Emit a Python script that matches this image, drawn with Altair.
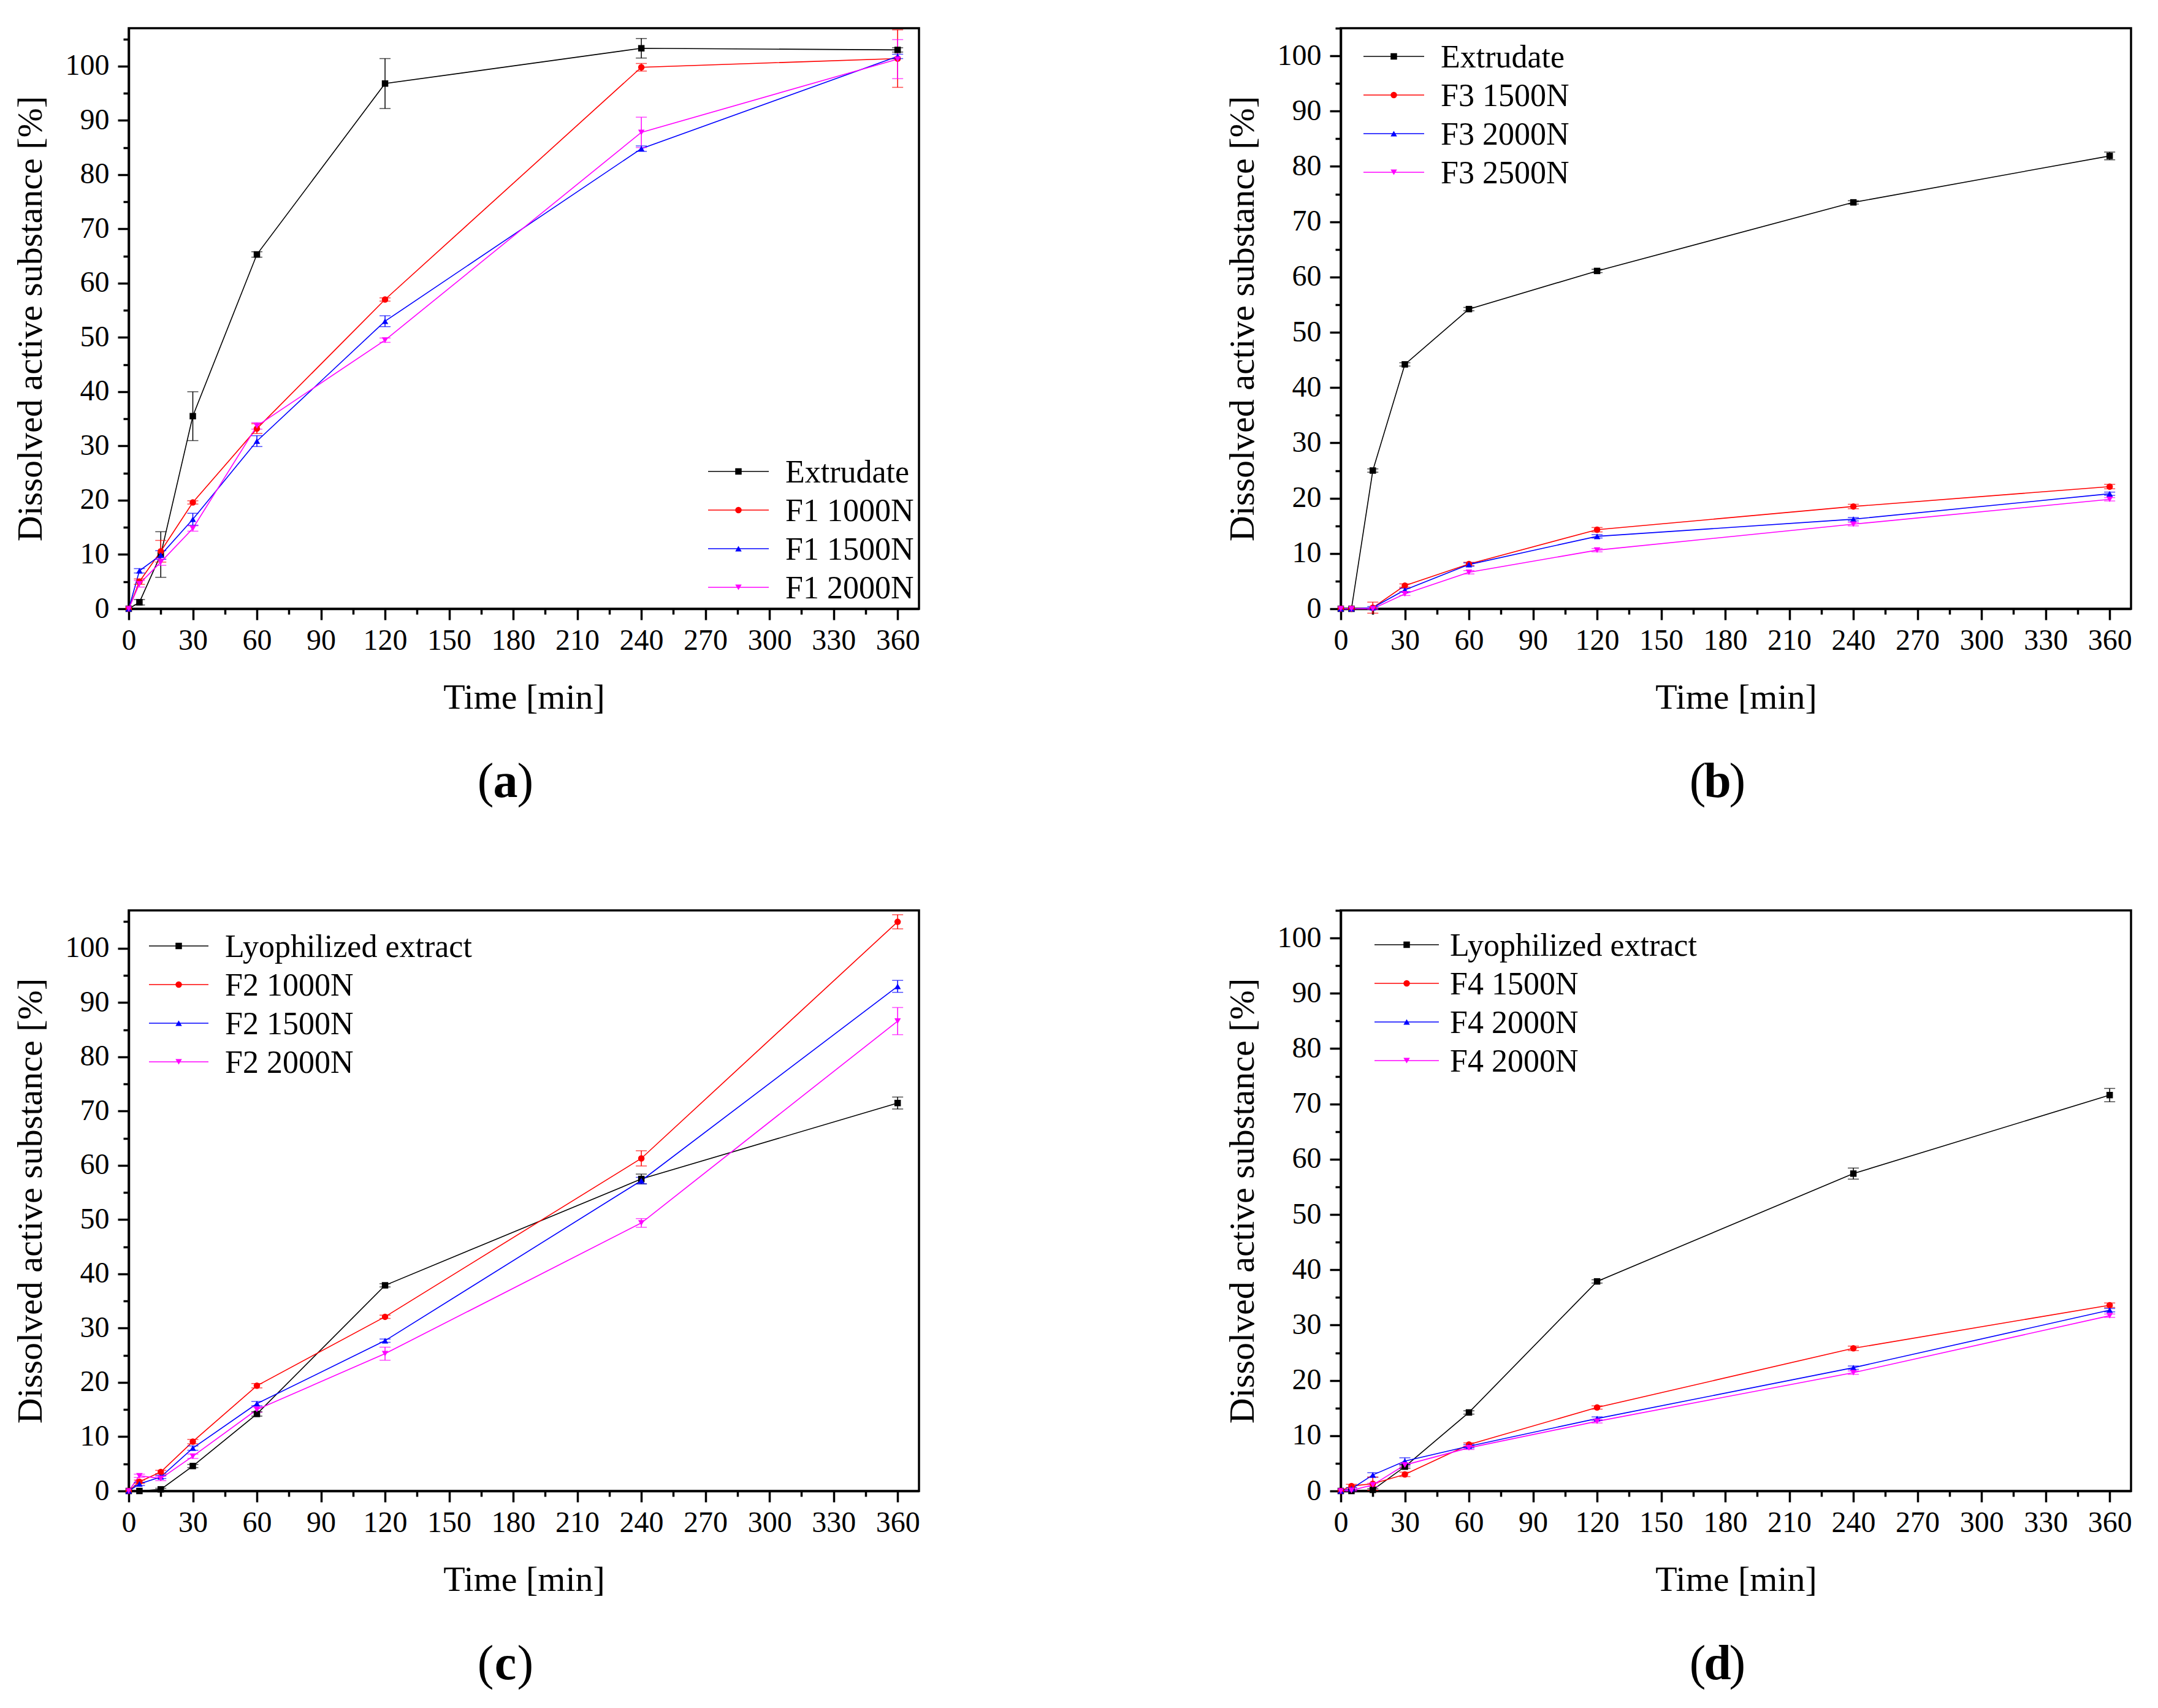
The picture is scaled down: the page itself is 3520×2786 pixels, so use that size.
import altair as alt
import pandas as pd

# ---------------- data ----------------
time_min = [0, 5, 15, 30, 60, 120, 240, 360]

# (a)
a_labels = ["Extrudate", "F1 1000N", "F1 1500N", "F1 2000N"]
a_extrudate = [0, 1.2, 10.0, 35.5, 65.3, 96.8, 103.3, 103.0]
a_extrudate_err = [0, 0.5, 4.2, 4.5, 0.5, 4.6, 1.8, 0.4]
a_f1_1000 = [0, 5.0, 10.6, 19.6, 33.2, 57.0, 99.8, 101.4]
a_f1_1000_err = [0, 0.5, 2.0, 0.3, 0.9, 0.3, 0.7, 5.3]
a_f1_1500 = [0, 7.0, 9.9, 16.5, 30.9, 53.0, 84.8, 101.8]
a_f1_1500_err = [0, 0.4, 0.8, 1.1, 1.0, 1.0, 0.5, 0.4]
a_f1_2000 = [0, 4.6, 8.6, 14.8, 33.7, 49.5, 87.8, 101.3]
a_f1_2000_err = [0, 0.6, 0.6, 0.5, 0.6, 0.4, 2.8, 3.6]

# (b)
b_labels = ["Extrudate", "F3 1500N", "F3 2000N", "F3 2500N"]
b_extrudate = [0, 0, 25.0, 44.2, 54.2, 61.1, 73.5, 81.9]
b_extrudate_err = [0, 0, 0.3, 0.3, 0.3, 0.3, 0.3, 0.7]
b_f3_1500 = [0, 0, 0.2, 4.2, 8.1, 14.3, 18.5, 22.1]
b_f3_1500_err = [0, 0, 1.0, 0.3, 0.3, 0.4, 0.4, 0.4]
b_f3_2000 = [0, 0, 0.2, 3.4, 8.0, 13.1, 16.2, 20.8]
b_f3_2000_err = [0, 0, 0.2, 0.3, 0.3, 0.3, 0.3, 0.3]
b_f3_2500 = [0, 0, 0, 2.7, 6.6, 10.6, 15.3, 19.8]
b_f3_2500_err = [0, 0, 0.1, 0.3, 0.3, 0.3, 0.3, 0.3]

# (c)
c_labels = ["Lyophilized extract", "F2 1000N", "F2 1500N", "F2 2000N"]
c_lyo = [0, 0, 0.3, 4.6, 14.2, 37.9, 57.5, 71.5]
c_lyo_err = [0, 0, 0.2, 0.3, 0.4, 0.3, 0.9, 1.1]
c_f2_1000 = [0, 1.7, 3.5, 9.1, 19.4, 32.1, 61.3, 104.9]
c_f2_1000_err = [0, 0.3, 0.3, 0.4, 0.4, 0.3, 1.4, 1.3]
c_f2_1500 = [0, 1.3, 2.6, 7.9, 16.1, 27.7, 57.2, 93.0]
c_f2_1500_err = [0, 0.3, 0.3, 0.4, 0.4, 0.3, 0.6, 1.1]
c_f2_2000 = [0, 2.8, 2.3, 6.4, 15.0, 25.3, 49.4, 86.6]
c_f2_2000_err = [0, 0.3, 0.4, 0.4, 0.5, 1.2, 0.8, 2.5]

# (d)
d_labels = ["Lyophilized extract", "F4 1500N", "F4 2000N", "F4 2000N"]
d_lyo = [0, 0, 0.2, 4.4, 14.2, 37.9, 57.4, 71.6]
d_lyo_err = [0, 0, 0.2, 0.3, 0.3, 0.3, 1.0, 1.2]
d_f4_1500 = [0, 0.9, 1.3, 3.0, 8.4, 15.1, 25.8, 33.6]
d_f4_1500_err = [0, 0.3, 1.2, 0.4, 0.3, 0.3, 0.4, 0.4]
d_f4_2000a = [0, 0.4, 2.9, 5.4, 8.1, 13.1, 22.3, 32.7]
d_f4_2000a_err = [0, 0.2, 0.4, 0.6, 0.3, 0.3, 0.3, 0.3]
d_f4_2000b = [0, 0.1, 1.1, 4.7, 7.8, 12.6, 21.4, 31.7]
d_f4_2000b_err = [0, 0.1, 0.3, 0.3, 0.3, 0.3, 0.3, 0.3]

x_major_ticks = [0, 30, 60, 90, 120, 150, 180, 210, 240, 270, 300, 330, 360]
x_minor_ticks = [15, 45, 75, 105, 135, 165, 195, 225, 255, 285, 315, 345]
y_major_ticks = [0, 10, 20, 30, 40, 50, 60, 70, 80, 90, 100]
y_minor_ticks = [5, 15, 25, 35, 45, 55, 65, 75, 85, 95, 105]

# ---------------- style ----------------
SERIF = "Liberation Serif"
COLORS = ["#000000", "#ff0000", "#0000ff", "#ff00ff"]
SHAPES = ["square", "circle", "triangle-up", "triangle-down"]
W, H = 1289, 947
XTITLE = "Time [min]"
YTITLE = "Dissolved active substance [%]"
MSIZE = 110


def build_panel(letter, labels, series, errors, ymax, leg_x0, leg_x1, leg_tx, leg_y0):
    keys = [f"s{i}" for i in range(len(labels))]
    rows = []
    for k, lab, vals, errs in zip(keys, labels, series, errors):
        for t, v, e in zip(time_min, vals, errs):
            rows.append({"key": k, "label": lab, "t": t, "v": v, "err": e,
                         "lo": v - e, "hi": v + e})
    df = pd.DataFrame(rows)
    df_err = df[df["err"] > 0]

    color = alt.Color("key:N", scale=alt.Scale(domain=keys, range=COLORS), legend=None)
    shape = alt.Shape("key:N", scale=alt.Scale(domain=keys, range=SHAPES), legend=None)
    xs = alt.Scale(domain=[0, 370], nice=False, zero=False, padding=0)
    ys = alt.Scale(domain=[0, ymax], nice=False, zero=False, padding=0)

    x_main = alt.Axis(values=x_major_ticks, tickSize=18, labelPadding=10, titlePadding=40,
                      orient="bottom", grid=False, labelFontSize=48, titleFontSize=58,
                      labelFont=SERIF, titleFont=SERIF, titleFontWeight="normal",
                      labelFlush=False, labelOverlap=False)
    y_main = alt.Axis(values=y_major_ticks, tickSize=18, labelPadding=14, titlePadding=27,
                      orient="left", grid=False, labelFontSize=48, titleFontSize=58,
                      labelFont=SERIF, titleFont=SERIF, titleFontWeight="normal",
                      labelFlush=False, labelOverlap=False)
    x_minor = alt.Axis(values=x_minor_ticks, tickSize=9, labels=False, domain=False,
                       orient="bottom", grid=False)
    y_minor = alt.Axis(values=y_minor_ticks, tickSize=9, labels=False, domain=False,
                       orient="left", grid=False)

    base = alt.Chart(df)
    lines = base.mark_line(strokeWidth=1.6).encode(
        x=alt.X("t:Q", scale=xs, axis=x_main, title=XTITLE),
        y=alt.Y("v:Q", scale=ys, axis=y_main, title=YTITLE),
        color=color, detail="key:N",
    )
    err_rules = alt.Chart(df_err).mark_rule(strokeWidth=1.5).encode(
        x=alt.X("t:Q", scale=xs, axis=None),
        y=alt.Y("lo:Q", scale=ys, axis=None),
        y2="hi:Q",
        color=color,
    )
    caps_lo = alt.Chart(df_err).mark_tick(orient="horizontal", size=18, thickness=1.5).encode(
        x=alt.X("t:Q", scale=xs, axis=x_minor, title=None),
        y=alt.Y("lo:Q", scale=ys, axis=y_minor, title=None),
        color=color,
    )
    caps_hi = alt.Chart(df_err).mark_tick(orient="horizontal", size=18, thickness=1.5).encode(
        x=alt.X("t:Q", scale=xs, axis=None),
        y=alt.Y("hi:Q", scale=ys, axis=None),
        color=color,
    )
    points = base.mark_point(filled=True, size=MSIZE, opacity=1).encode(
        x=alt.X("t:Q", scale=xs, axis=None),
        y=alt.Y("v:Q", scale=ys, axis=None),
        color=color, shape=shape,
    )

    layers = [lines, err_rules, caps_lo, caps_hi, points]

    # manual legend (line + marker + label)
    for i, lab in enumerate(labels):
        yy = leg_y0 + i * 63
        ld = pd.DataFrame({"label": [lab]})
        layers.append(alt.Chart(ld).mark_rule(color=COLORS[i], strokeWidth=1.6).encode(
            x=alt.value(leg_x0), x2=alt.value(leg_x1), y=alt.value(yy)))
        layers.append(alt.Chart(ld).mark_point(filled=True, size=MSIZE, opacity=1,
                                               shape=SHAPES[i], color=COLORS[i]).encode(
            x=alt.value((leg_x0 + leg_x1) / 2), y=alt.value(yy)))
        layers.append(alt.Chart(ld).mark_text(align="left", baseline="middle", font=SERIF,
                                              fontSize=52, color="black").encode(
            x=alt.value(leg_tx), y=alt.value(yy + 2), text="label:N"))

    # panel letter "(x)" with bold letter
    cx = W / 2 - 30
    cy = H + 283
    ltr = pd.DataFrame({"open": ["("], "letter": [letter], "close": [")"]})
    layers.append(alt.Chart(ltr).mark_text(align="right", baseline="middle", font=SERIF,
                                           fontSize=80, color="black").encode(
        x=alt.value(cx - 19), y=alt.value(cy), text="open:N"))
    layers.append(alt.Chart(ltr).mark_text(align="center", baseline="middle", font=SERIF,
                                           fontSize=80, fontWeight="bold", color="black").encode(
        x=alt.value(cx), y=alt.value(cy), text="letter:N"))
    layers.append(alt.Chart(ltr).mark_text(align="left", baseline="middle", font=SERIF,
                                           fontSize=80, color="black").encode(
        x=alt.value(cx + 19), y=alt.value(cy), text="close:N"))

    return alt.layer(*layers).resolve_axis(x="independent", y="independent").properties(
        width=W, height=H)


pa = build_panel("a", a_labels,
                 [a_extrudate, a_f1_1000, a_f1_1500, a_f1_2000],
                 [a_extrudate_err, a_f1_1000_err, a_f1_1500_err, a_f1_2000_err],
                 107, 945, 1044, 1071, 723)
pb = build_panel("b", b_labels,
                 [b_extrudate, b_f3_1500, b_f3_2000, b_f3_2500],
                 [b_extrudate_err, b_f3_1500_err, b_f3_2000_err, b_f3_2500_err],
                 105, 37, 136, 163, 46)
pc = build_panel("c", c_labels,
                 [c_lyo, c_f2_1000, c_f2_1500, c_f2_2000],
                 [c_lyo_err, c_f2_1000_err, c_f2_1500_err, c_f2_2000_err],
                 107, 33, 130, 157, 58)
pd_ = build_panel("d", d_labels,
                  [d_lyo, d_f4_1500, d_f4_2000a, d_f4_2000b],
                  [d_lyo_err, d_f4_1500_err, d_f4_2000a_err, d_f4_2000b_err],
                  105, 55, 160, 178, 56)

row1 = alt.hconcat(pa, pb, spacing=494)
row2 = alt.hconcat(pc, pd_, spacing=494)

chart = alt.vconcat(row1, row2, spacing=163).properties(
    padding={"left": 11, "top": 34, "right": 10, "bottom": 10},
    background="white",
).configure(
    font=SERIF
).configure_view(
    stroke="black", strokeWidth=3.5
).configure_axis(
    domainColor="black", domainWidth=3.5, tickColor="black", tickWidth=3.5,
    labelColor="black", titleColor="black", labelFont=SERIF, titleFont=SERIF,
    titleFontWeight="normal",
)

chart.save("out.html", embed_options={"renderer": "svg", "actions": False})
